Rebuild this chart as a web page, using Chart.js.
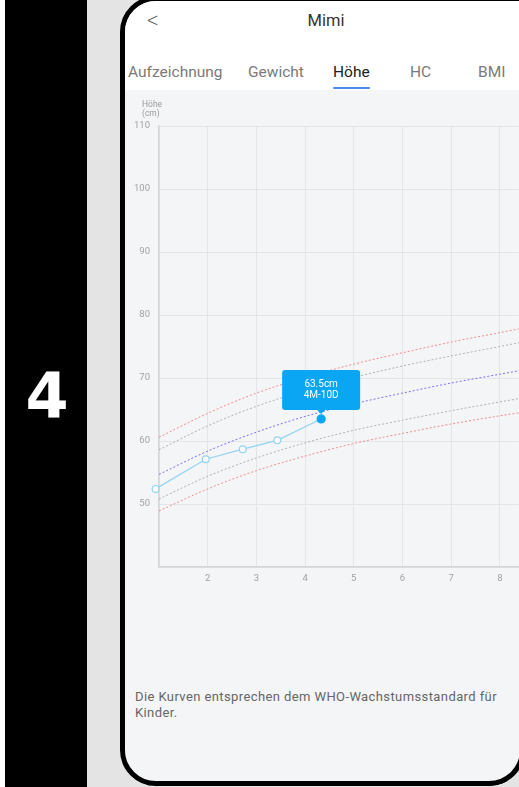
<!DOCTYPE html>
<html>
<head>
<meta charset="utf-8">
<script src="https://cdn.jsdelivr.net/npm/chart.js@4.4.0/dist/chart.umd.min.js"></script>
<style>
  html, body { margin: 0; padding: 0; width: 519px; height: 787px; overflow: hidden; background: #fff; font-family: Roboto, "Noto Sans", sans-serif; }
  #screen { position: absolute; left: 0; top: 0; width: 519px; height: 787px; overflow: hidden; background: #e4e4e4; }
  .band { position: absolute; top: 0; height: 787px; }
  #white { left: 0; width: 5px; background: #fff; }
  #black { left: 5px; width: 82px; background: #000; }
  #num { position: absolute; left: 5px; width: 84px; top: 359px; line-height: 62px; text-align: center; color: #fff; font: bold 62px "DejaVu Sans", sans-serif; }
  #phone { position: absolute; box-sizing: border-box; left: 120px; top: -4px; width: 460px; height: 790px; border: 5px solid #000; border-radius: 36px; background: #f4f5f7; overflow: hidden; }
  #header { position: absolute; left: 0; top: 0; width: 100%; height: 89px; background: #fff; }
  .t { position: absolute; white-space: nowrap; }
  .tab { position: absolute; top: 62px; font-size: 15.5px; line-height: 18px; color: #7a7a7a; white-space: nowrap; }
  #wrap { position: absolute; left: 125px; top: 90px; width: 399px; height: 500px; }
  #corner { position: absolute; left: 460px; top: 730px; }
</style>
</head>
<body>
<div id="screen">
<div class="band" id="white"></div>
<div class="band" id="black"></div>
<div id="num">4</div>
<div id="phone">
  <div id="header">
    <div class="t" style="left:22px;top:6px;font-size:23px;color:#555;font-weight:200;">&lt;</div>
    <div class="t" style="left:0;width:402px;top:10px;text-align:center;font-size:16.5px;line-height:20px;color:#333;">Mimi</div>
    <div class="tab" style="left:3px;">Aufzeichnung</div>
    <div class="tab" style="left:123px;">Gewicht</div>
    <div class="tab" style="left:208px;color:#222;">Höhe</div>
    <div class="tab" style="left:285px;">HC</div>
    <div class="tab" style="left:353px;">BMI</div>
    <div style="position:absolute;left:208px;top:86px;width:37px;height:2px;border-radius:1px;background:#4a88f2;"></div>
  </div>
  <div class="t" style="left:10px;top:688px;font-size:13px;letter-spacing:0.4px;line-height:16px;color:#666;white-space:normal;width:380px;">Die Kurven entsprechen dem WHO-Wachstumsstandard für Kinder.</div>
</div>
<div id="wrap"><canvas id="growthChart" width="399" height="500"></canvas></div>
<svg id="corner" width="59" height="57" viewBox="0 0 59 57">
  <path d="M29 56 A36 36 0 0 0 65 20 L65 57 L29 57 Z" fill="#e4e4e4"/>
  <rect x="0" y="56" width="59" height="1" fill="#e4e4e4"/>
  <path d="M29 56 A36 36 0 0 0 65 20 L60 20 A31 31 0 0 1 29 51 Z" fill="#000"/>
</svg>
</div>

<script>
// WHO reference curves (month -> cm)
var months = [1, 2, 3, 4, 5, 6, 7, 8, 9, 10];
var sd3Low = [48.9, 52.4, 55.3, 57.6, 59.6, 61.2, 62.7, 64.0, 65.2, 66.4];
var sd2Low = [50.8, 54.4, 57.3, 59.7, 61.7, 63.3, 64.8, 66.2, 67.5, 68.7];
var median = [54.7, 58.4, 61.4, 63.9, 65.9, 67.6, 69.2, 70.6, 72.0, 73.3];
var sd2High = [58.6, 62.4, 65.5, 68.0, 70.1, 71.9, 73.5, 75.0, 76.5, 77.9];
var sd3High = [60.6, 64.4, 67.6, 70.1, 72.2, 74.0, 75.7, 77.2, 78.7, 80.1];

// measurements
var ages = [0.93, 1.96, 2.72, 3.43, 4.33];
var heights = [52.4, 57.1, 58.7, 60.1, 63.5];
var ageLabels = ['0M-28D', '1M-29D', '2M-22D', '3M-13D', '4M-10D'];

var xTicks = [2, 3, 4, 5, 6, 7, 8];
var yTicks = [50, 60, 70, 80, 90, 100, 110];

function pts(xs, ys) {
    return xs.map(function (x, i) { return { x: x, y: ys[i] }; });
}

function curve(ys, color) {
    return {
        data: pts(months, ys),
        borderColor: color,
        borderWidth: 1,
        borderDash: [2, 2],
        pointRadius: 0,
        cubicInterpolationMode: 'monotone',
        fill: false
    };
}

var last = heights.length - 1;

var extras = {
    id: 'extras',
    afterDatasetsDraw: function (chart) {
        var ctx = chart.ctx;
        var el = chart.getDatasetMeta(5).data[last];
        var px = el.x, py = el.y;
        var w = 78, h = 40, bottom = py - 9;
        ctx.save();
        ctx.fillStyle = '#0aa6f4';
        ctx.beginPath();
        ctx.roundRect(px - w / 2, bottom - h, w, h, 3);
        ctx.fill();
        ctx.beginPath();
        ctx.moveTo(px - 4, bottom);
        ctx.lineTo(px + 4, bottom);
        ctx.lineTo(px, bottom + 4);
        ctx.fill();
        ctx.fillStyle = '#fff';
        ctx.font = '10px Roboto';
        ctx.textAlign = 'center';
        ctx.textBaseline = 'middle';
        ctx.fillText(heights[last] + 'cm', px, bottom - h / 2 - 5);
        ctx.fillText(ageLabels[last], px, bottom - h / 2 + 6);
        // axis title
        ctx.fillStyle = '#9a9a9a';
        ctx.font = '8.5px Roboto';
        ctx.textAlign = 'left';
        ctx.fillText('Höhe', 17, 15);
        ctx.fillText('(cm)', 17, 24);
        ctx.restore();
    }
};

new Chart(document.getElementById('growthChart'), {
    type: 'line',
    data: {
        datasets: [
            curve(sd3High, 'rgba(240,115,115,0.8)'),
            curve(sd2High, 'rgba(165,165,165,0.85)'),
            curve(median, 'rgba(118,104,240,0.95)'),
            curve(sd2Low, 'rgba(165,165,165,0.85)'),
            curve(sd3Low, 'rgba(240,115,115,0.8)'),
            {
                data: pts(ages, heights),
                borderColor: '#92d3f2',
                borderWidth: 1.2,
                tension: 0,
                clip: false,
                pointRadius: function (c) { return c.dataIndex === last ? 4 : 3.4; },
                pointBorderWidth: 1.2,
                pointBorderColor: function (c) { return c.dataIndex === last ? '#0aa6f4' : '#92d3f2'; },
                pointBackgroundColor: function (c) { return c.dataIndex === last ? '#0aa6f4' : '#ffffff'; }
            }
        ]
    },
    options: {
        responsive: false,
        animation: false,
        events: [],
        layout: { padding: { top: 36, right: 0, left: 0, bottom: 0 } },
        plugins: { legend: { display: false }, tooltip: { enabled: false } },
        scales: {
            x: {
                type: 'linear',
                min: 1,
                max: 8.39,
                afterFit: function (s) { s.height = 23; },
                afterBuildTicks: function (s) { s.ticks = [1].concat(xTicks).map(function (v) { return { value: v }; }); },
                ticks: {
                    padding: 6,
                    color: '#a3a3a3',
                    font: { family: 'Roboto', size: 9.5 },
                    callback: function (v) { return xTicks.indexOf(v) >= 0 ? String(v) : ''; }
                },
                grid: { color: '#e4e5e8', lineWidth: 1, drawTicks: false },
                border: { color: '#d4d5d8', width: 1.5 }
            },
            y: {
                min: 40,
                max: 110,
                afterFit: function (s) { s.width = 34; },
                afterBuildTicks: function (s) { s.ticks = [40].concat(yTicks).map(function (v) { return { value: v }; }); },
                ticks: {
                    padding: 9,
                    color: '#a3a3a3',
                    font: { family: 'Roboto', size: 9.5 },
                    callback: function (v) { return yTicks.indexOf(v) >= 0 ? String(v) : ''; }
                },
                grid: { color: '#e4e5e8', lineWidth: 1, drawTicks: false },
                border: { color: '#d4d5d8', width: 1.5 }
            }
        }
    },
    plugins: [extras]
});
</script>
</body>
</html>
